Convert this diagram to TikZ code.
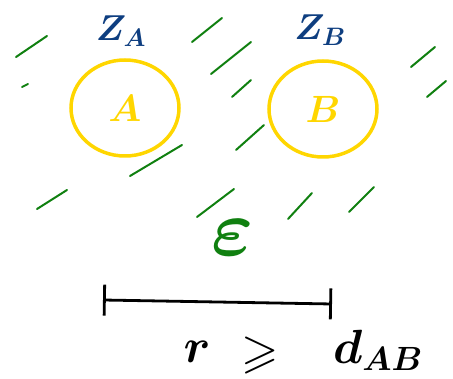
\documentclass[tikz,border=0pt]{standalone}
\usepackage{fix-cm}
\usepackage{amsmath,amssymb}
\usepackage{xcolor}
\usepackage{tikz}
\usetikzlibrary{arrows.meta,positioning,shapes.geometric}

\definecolor{penyellow}{RGB}{255,214,0}
\definecolor{penblue}{RGB}{14,62,128}
\definecolor{pengreen}{RGB}{16,128,16}

\begin{document}
\begin{tikzpicture}[
      x=1pt, y=-1pt,
      atom/.style={draw=penyellow, ellipse, line width=3.5pt, minimum width=108pt, minimum height=96pt,
                   text=penyellow, font=\fontsize{38}{40}\selectfont\boldmath},
      zlbl/.style={text=penblue, font=\fontsize{36}{40}\selectfont\boldmath},
      hatch/.style={draw=pengreen, line width=2pt, line cap=round},
      rel/.style={font=\fontsize{48}{52}\selectfont\boldmath},
      >=Stealth
    ]
    \useasboundingbox (0,0) rectangle (453,379);

    % background medium
    \foreach \xa/\ya/\xb/\yb in {16/57/47/36, 22/87/28/84, 192/42/222/18, 211/74/251/42,
                                 232/97/251/80, 130/176/182/145, 236/150/264/125,
                                 411/67/435/47, 427/97/446/81, 37/209/67/190,
                                 197/217/234/189, 288/219/312/193, 349/212/374/187}
      \draw[hatch] (\xa,\ya) -- (\xb,\yb);

    % the two bodies
    \node[atom] (A) at (125,108) {$A$};
    \node[atom] (B) at (323,109) {$B$};
    \node[zlbl] (zA) at (121,31) {$Z_{A}$};
    \node[zlbl] (zB) at (320,30) {$Z_{B}$};

    \node[text=pengreen, font=\fontsize{80}{80}\selectfont\boldmath] (eps) at (233,238) {$\varepsilon$};

    % separation
    \coordinate (barL) at (103,300);
    \coordinate (barR) at (332,304);
    \draw[line width=2.8pt, {Bar[width=31pt,line width=2.8pt]}-{Bar[width=31pt,line width=2.8pt]}] (barL) -- (barR);

    \node[rel] (r) at (197,352) {$r$};
    \node[rel] (geq) at (260,356) {$\geqslant$};
    \node[rel] (dab) at (378,350) {$d_{AB}$};
  \end{tikzpicture}
\end{document}
